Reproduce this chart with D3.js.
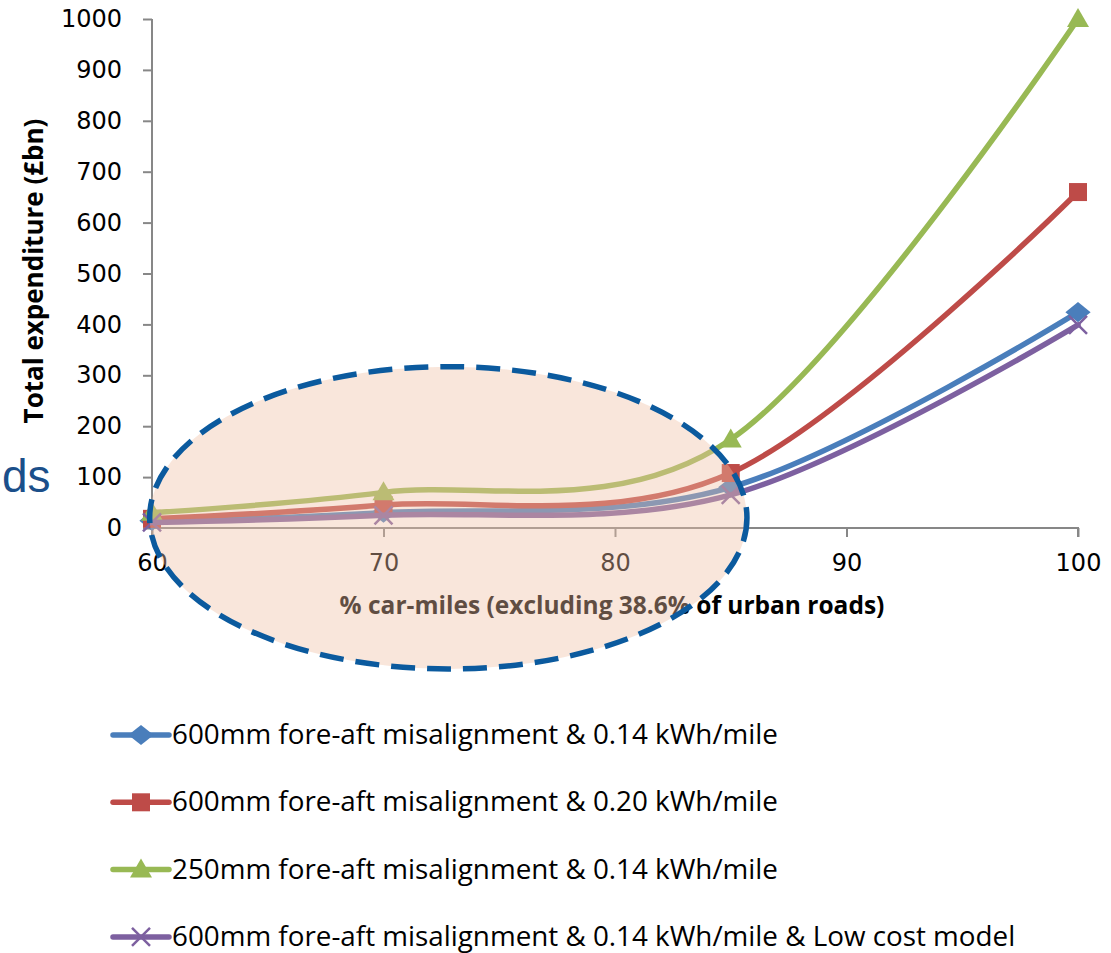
<!DOCTYPE html>
<html>
<head>
<meta charset="utf-8">
<script src="https://cdn.jsdelivr.net/npm/d3@7"></script>
<style>
  body { margin: 0; background: #fff; }
  svg { display: block; }
  .axis path, .axis line { stroke: #878787; stroke-width: 2; }
  .axis text { font-family: "DejaVu Sans", sans-serif; font-size: 24px; fill: #000; }
</style>
</head>
<body>
<div id="chart"></div>
<script>
// % car-miles
const xValues = [60, 70, 85, 100];

// Total expenditure (£bn) per scenario
const blue600_014 = [14, 30, 80, 424];
const red600_020 = [18, 45, 108, 660];
const green250_014 = [30, 70, 174, 1000];
const purple600_low = [11, 25, 65, 399];

const seriesNames = [
  "600mm fore-aft misalignment & 0.14 kWh/mile",
  "600mm fore-aft misalignment & 0.20 kWh/mile",
  "250mm fore-aft misalignment & 0.14 kWh/mile",
  "600mm fore-aft misalignment & 0.14 kWh/mile & Low cost model"
];
const seriesColors = ["#4A7EBB", "#BE4B48", "#98B954", "#7D60A0"];
const seriesMarkers = ["diamond", "square", "triangle", "cross"];

const yTicks = [0, 100, 200, 300, 400, 500, 600, 700, 800, 900, 1000];
const xTicks = [60, 70, 80, 90, 100];

const width = 1111,
  height = 953;

const margin = { top: 19, left: 152, right: 33 };
const plotBottom = 528;

const svg = d3
  .select("#chart")
  .append("svg")
  .attr("width", width)
  .attr("height", height);

const x = d3.scaleLinear().domain([60, 100]).range([margin.left, 1078]);
const y = d3.scaleLinear().domain([0, 1000]).range([plotBottom, margin.top]);

// stray slide text cut off at the left edge
svg
  .append("text")
  .attr("x", 2)
  .attr("y", 492)
  .style("font-family", "Liberation Sans, Arial, sans-serif")
  .style("font-size", "46px")
  .style("fill", "#1B4F8A")
  .text("ds");

// axes
svg
  .append("g")
  .attr("class", "axis")
  .attr("transform", "translate(0," + plotBottom + ")")
  .call(d3.axisBottom(x).tickValues(xTicks).tickSize(9).tickPadding(17))
  .call(g => g.select(".domain").attr("d", "M" + margin.left + ",0H" + x(100) + "V9"));

svg
  .append("g")
  .attr("class", "axis")
  .attr("transform", "translate(" + margin.left + ",0)")
  .call(
    d3
      .axisLeft(y)
      .tickValues(yTicks)
      .tickFormat(d3.format("d"))
      .tickSize(9)
      .tickPadding(21)
  )
  .call(g => g.select(".domain").attr("d", "M0," + y(1000) + "V" + (plotBottom + 9)));

// axis titles
svg
  .append("text")
  .attr("transform", "translate(43,271) rotate(-90)")
  .attr("text-anchor", "middle")
  .style("font-family", "Open Sans, sans-serif")
  .style("font-weight", "bold")
  .style("font-size", "26px")
  .text("Total expenditure (£bn)");

svg
  .append("text")
  .attr("x", 612)
  .attr("y", 614)
  .attr("text-anchor", "middle")
  .style("font-family", "Open Sans, sans-serif")
  .style("font-weight", "bold")
  .style("font-size", "24.5px")
  .text("% car-miles (excluding 38.6% of urban roads)");

// marker shapes
function drawMarker(g, type, color, cx, cy) {
  if (type === "diamond") {
    g.append("path")
      .attr("d", d3.symbol(d3.symbolDiamond2, 260)())
      .attr("transform", "translate(" + cx + "," + cy + ") scale(1.25,1)")
      .attr("fill", color);
  } else if (type === "square") {
    g.append("rect")
      .attr("x", cx - 9)
      .attr("y", cy - 9)
      .attr("width", 18)
      .attr("height", 18)
      .attr("fill", color);
  } else if (type === "triangle") {
    g.append("path")
      .attr("d", "M0,-11L11,8H-11Z")
      .attr("transform", "translate(" + cx + "," + cy + ")")
      .attr("fill", color);
  } else {
    g.append("path")
      .attr("d", "M-9,-9L9,9M-9,9L9,-9")
      .attr("transform", "translate(" + cx + "," + cy + ")")
      .attr("stroke", color)
      .attr("stroke-width", 2.5)
      .attr("fill", "none");
  }
}

const allSeries = [blue600_014, red600_020, green250_014, purple600_low];

const line = d3
  .line()
  .curve(d3.curveCardinal.tension(0))
  .x((d, i) => x(xValues[i]))
  .y(d => y(d));

allSeries.forEach(function(values, s) {
  const g = svg.append("g");
  g.append("path")
    .datum(values)
    .attr("d", line)
    .attr("fill", "none")
    .attr("stroke", seriesColors[s])
    .attr("stroke-width", 5.5)
    .attr("stroke-linejoin", "round")
    .attr("stroke-linecap", "round");
  values.forEach(function(v, i) {
    drawMarker(g, seriesMarkers[s], seriesColors[s], x(xValues[i]), y(v));
  });
});

// highlighted region (ellipse overlay), in data units
const ellipseCx = 72.8,
  ellipseCy = 20,
  ellipseRx = 12.9,
  ellipseRy = 297;

svg
  .append("ellipse")
  .attr("cx", x(ellipseCx))
  .attr("cy", y(ellipseCy))
  .attr("rx", x(60 + ellipseRx) - x(60))
  .attr("ry", y(0) - y(ellipseRy))
  .attr("fill", "rgb(240,192,166)")
  .attr("fill-opacity", 0.4)
  .attr("stroke", "#0B5A9E")
  .attr("stroke-width", 5.5)
  .attr("stroke-dasharray", "24 12");

// legend
const legend = svg
  .append("g")
  .selectAll("g")
  .data(seriesNames)
  .join("g")
  .attr("transform", (d, i) => "translate(0," + (735 + i * 67.3) + ")");

legend.each(function(d, i) {
  const g = d3.select(this);
  g.append("line")
    .attr("x1", 113)
    .attr("x2", 169)
    .attr("stroke", seriesColors[i])
    .attr("stroke-width", 5.5)
    .attr("stroke-linecap", "round");
  drawMarker(g, seriesMarkers[i], seriesColors[i], 141, 0);
  g.append("text")
    .attr("x", 172)
    .attr("y", 9)
    .style("font-family", "Open Sans, sans-serif")
    .style("font-size", "27.8px")
    .text(d);
});
</script>
</body>
</html>
